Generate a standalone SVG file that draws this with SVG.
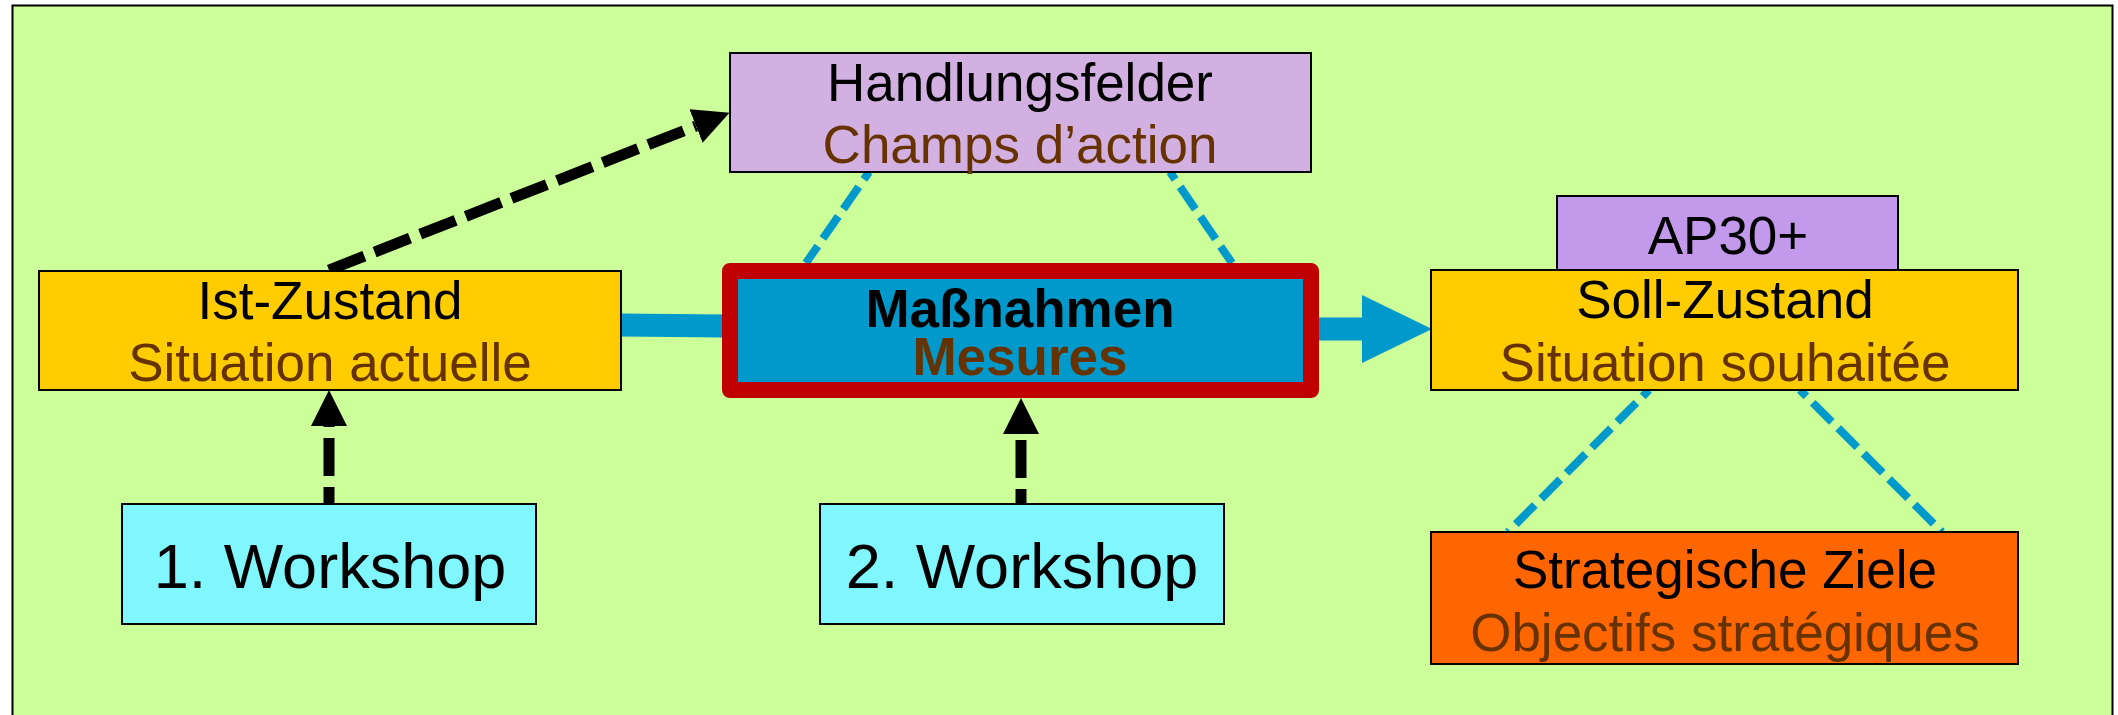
<svg xmlns="http://www.w3.org/2000/svg" width="2118" height="715" viewBox="0 0 2118 715">
<style>
  .box{stroke:#000;stroke-width:2}
  .de{font-family:"Liberation Sans",Arial,sans-serif;font-size:53px;fill:#000;text-anchor:middle}
  .fr{font-family:"Liberation Sans",Arial,sans-serif;font-size:53px;fill:#663300;text-anchor:middle}
  .ws{font-family:"Liberation Sans",Arial,sans-serif;font-size:63px;fill:#000;text-anchor:middle}
  .b{font-weight:bold}
  .blk{fill:none;stroke:#000;stroke-width:11;stroke-dasharray:38 11}
  .bld{fill:none;stroke:#0099CC;stroke-width:8;stroke-dasharray:27 9}
  .blu{fill:none;stroke:#0099CC;stroke-width:23}
</style>
<defs>
  <marker id="headBlack" markerUnits="userSpaceOnUse" markerWidth="36" markerHeight="36" refX="0" refY="18" orient="auto" viewBox="0 0 36 36">
    <path d="M0,0 L36,18 L0,36 Z" fill="#000"/>
  </marker>
  <marker id="headBlue" markerUnits="userSpaceOnUse" markerWidth="70" markerHeight="68" refX="0" refY="34" orient="auto" viewBox="0 0 70 68">
    <path d="M0,0 L70,34 L0,68 Z" fill="#0099CC"/>
  </marker>
</defs>
<rect x="12.5" y="5.5" width="2100" height="730" fill="#CCFF99" stroke="#000" stroke-width="2"/>
<g id="connectors">
  <line class="blu" x1="620" y1="325" x2="724" y2="326"/>
  <line class="blu" x1="1318" y1="329" x2="1362" y2="329" marker-end="url(#headBlue)"/>
  <line class="bld" x1="869" y1="172" x2="806" y2="263" stroke-dashoffset="18"/>
  <line class="bld" x1="1170" y1="172" x2="1232" y2="263" stroke-dashoffset="18"/>
  <line class="bld" x1="1649" y1="390" x2="1508" y2="532" stroke-dashoffset="18"/>
  <line class="bld" x1="1800" y1="390" x2="1942" y2="532" stroke-dashoffset="18"/>
  <line class="blk" x1="329" y1="270" x2="696" y2="126" marker-end="url(#headBlack)"/>
  <line class="blk" x1="329" y1="504" x2="329" y2="426" stroke-dashoffset="21" marker-end="url(#headBlack)"/>
  <line class="blk" x1="1021" y1="504" x2="1021" y2="434" stroke-dashoffset="23" marker-end="url(#headBlack)"/>
</g>
<g id="handlungsfelder">
  <rect class="box" x="730" y="53" width="581" height="119" fill="#D2B1E2"/>
  <text class="de" x="1020" y="101">Handlungsfelder</text>
  <text class="fr" x="1020" y="163">Champs d’action</text>
</g>
<g id="ist">
  <rect class="box" x="39" y="271" width="582" height="119" fill="#FFCC00"/>
  <text class="de" x="330" y="319">Ist-Zustand</text>
  <text class="fr" x="330" y="381">Situation actuelle</text>
</g>
<g id="massnahmen">
  <rect x="730" y="271" width="581" height="119" fill="#0099CC" stroke="#C00000" stroke-width="16" stroke-linejoin="round"/>
  <text class="de b" x="1020" y="327">Maßnahmen</text>
  <text class="fr b" x="1020" y="375">Mesures</text>
</g>
<g id="soll">
  <rect class="box" x="1431" y="270" width="587" height="120" fill="#FFCC00"/>
  <text class="de" x="1725" y="318">Soll-Zustand</text>
  <text class="fr" x="1725" y="381">Situation souhaitée</text>
</g>
<g id="ap30">
  <rect class="box" x="1557" y="196" width="341" height="74" fill="#C299EB"/>
  <text class="de" x="1728" y="254">AP30+</text>
</g>
<g id="ziele">
  <rect class="box" x="1431" y="532" width="587" height="132" fill="#FF6600"/>
  <text class="de" x="1725" y="588">Strategische Ziele</text>
  <text class="fr" x="1725" y="651">Objectifs stratégiques</text>
</g>
<g id="workshop1">
  <rect class="box" x="122" y="504" width="414" height="120" fill="#80F7FF"/>
  <text class="ws" x="330" y="588">1. Workshop</text>
</g>
<g id="workshop2">
  <rect class="box" x="820" y="504" width="404" height="120" fill="#80F7FF"/>
  <text class="ws" x="1022" y="588">2. Workshop</text>
</g>
</svg>
